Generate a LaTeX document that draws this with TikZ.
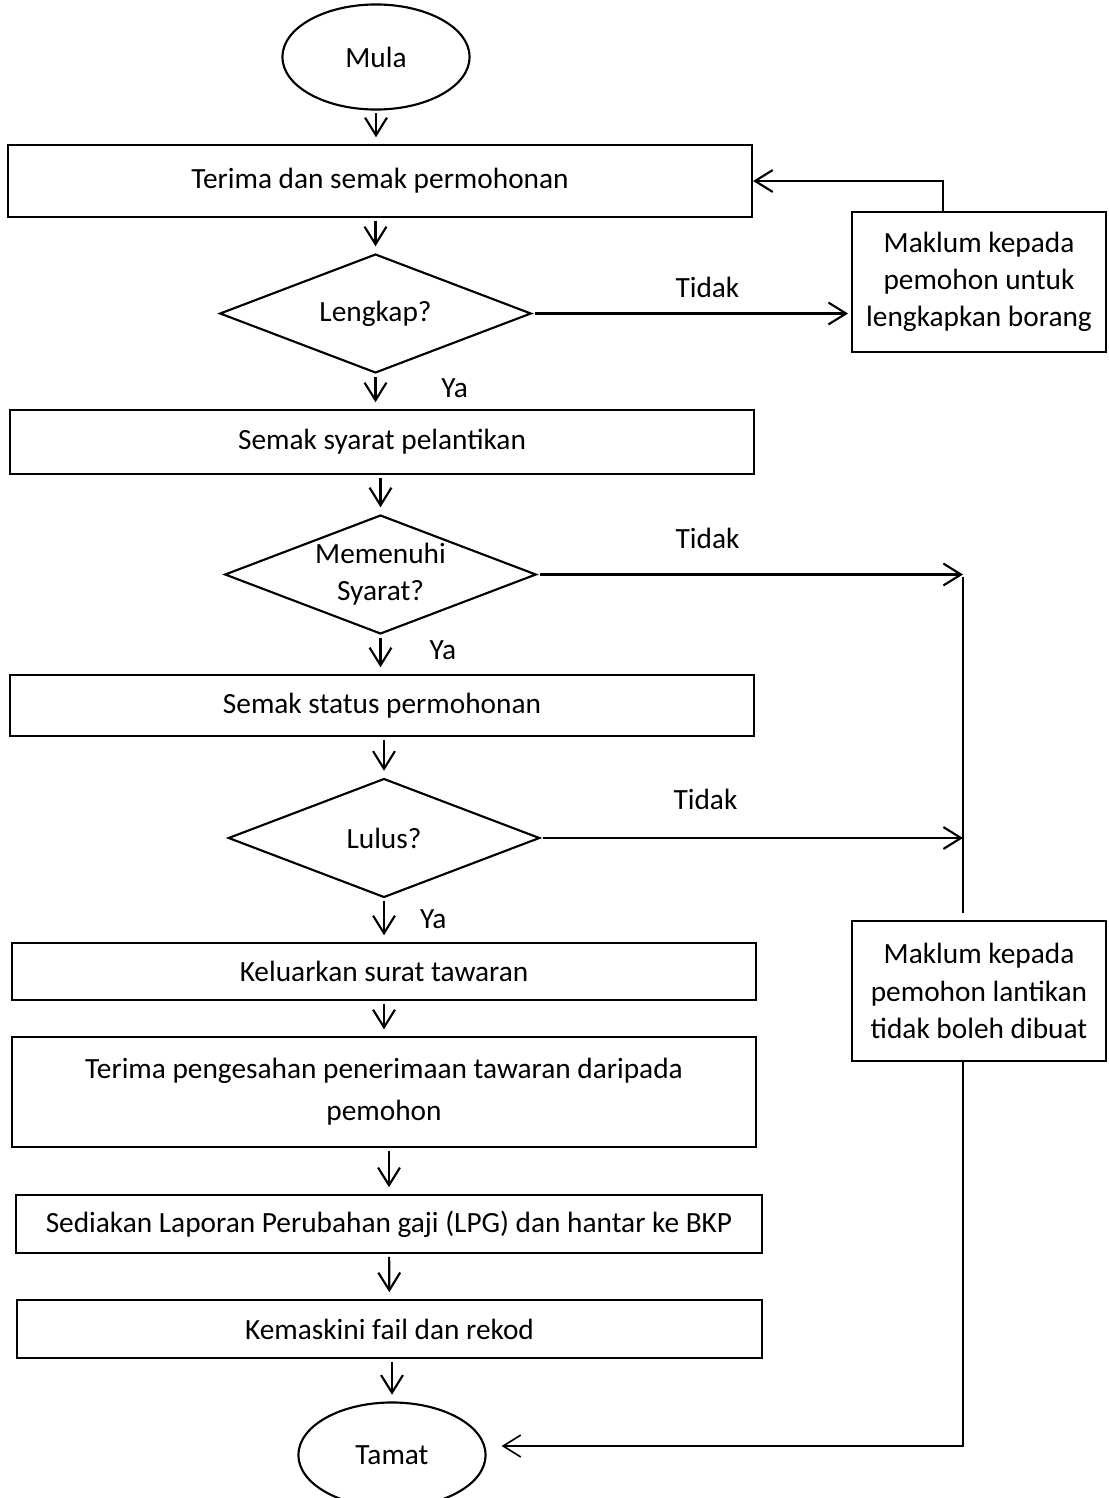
\documentclass[tikz,border=0pt]{standalone}
\usepackage{fontspec}
\setmainfont{Carlito}
\usepackage{tikz}
\usetikzlibrary{shapes.geometric,arrows.meta}

\begin{document}
\begin{tikzpicture}[->,>={Straight Barb[length=6.6pt,width=8.2pt]},shorten >=2.5pt,shorten <=1pt,auto,x=0.375pt,y=-0.375pt,line width=0.8pt]
            \tikzstyle{every node}=[font=\fontsize{11}{14}\selectfont]
            \tikzstyle{proses}=[draw,rectangle,inner sep=0pt,minimum width=279pt,align=center]
            \tikzstyle{keputusan}=[draw,diamond,aspect=2.62,inner sep=0pt,minimum width=116.8pt,minimum height=44.6pt,align=center]
            \tikzstyle{terminal}=[draw,ellipse,inner sep=0pt,minimum width=70.2pt,minimum height=39.4pt]
            \tikzstyle{maklum}=[draw,rectangle,inner sep=0pt,minimum width=95.4pt,minimum height=52.5pt,align=center]
            \useasboundingbox (0,0) rectangle (1108,1498);
            \node[terminal] (mula) at (376,57) {Mula};
            \node[proses, minimum height=27pt] (terima) at (380,181) {Terima dan semak permohonan};
            \node[keputusan] (lengkap) at (375.5,313.5) {Lengkap?};
            \node[maklum] (borang) at (979,282) {Maklum kepada\\pemohon untuk\\lengkapkan borang};
            \node[proses, minimum height=24pt] (syarat) at (382,442) {Semak syarat pelantikan};
            \node[keputusan] (memenuhi) at (380.5,574.5) {Memenuhi\\Syarat?};
            \node[proses, minimum height=22.9pt] (status) at (382,705.5) {Semak status permohonan};
            \node[keputusan] (lulus) at (384,838) {Lulus?};
            \node[maklum] (gagal) at (979,991) {Maklum kepada\\pemohon lantikan\\tidak boleh dibuat};
            \node[proses, minimum height=21.4pt] (surat) at (384,971.5) {Keluarkan surat tawaran};
            \node[proses, minimum height=41.2pt, font=\fontsize{11}{15.75}\selectfont] (sah) at (384,1092) {Terima pengesahan penerimaan tawaran daripada\\pemohon};
            \node[proses, minimum height=21.8pt, minimum width=279.8pt] (lpg) at (389,1224) {Sediakan Laporan Perubahan gaji (LPG) dan hantar ke BKP};
            \node[proses, minimum height=21.8pt, minimum width=279.4pt] (rekod) at (389.5,1329) {Kemaskini fail dan rekod};
            \node[terminal] (tamat) at (392,1455) {Tamat};
            \coordinate (balik) at (943,212);
            \coordinate (tolak1) at (963,574.5);
            \coordinate (tolak2) at (963,838);
            \coordinate (tolak3) at (963,1446);

            % aliran utama
            \path (mula.south) edge (mula.south |- terima.north)
                  (lengkap.north |- terima.south) edge (lengkap.north)
                  (lengkap.south) edge node[right=21pt,pos=0.42] {Ya} (lengkap.south |- syarat.north)
                  (memenuhi.north |- syarat.south) edge (memenuhi.north)
                  (memenuhi.south) edge node[right=14.7pt,pos=0.39] {Ya} (memenuhi.south |- status.north)
                  (lulus.north |- status.south) edge (lulus.north)
                  (lulus.south) edge node[right=9.8pt,pos=0.47] {Ya} (lulus.south |- surat.north)
                  (surat) edge (sah)
                  (lpg.north |- sah.south) edge (lpg.north)
                  (lpg) edge (rekod)
                  (tamat.north |- rekod.south) edge (tamat.north);

            % cabang tidak
            \path (lengkap.east) edge[shorten >=1pt] node[above=2pt,pos=0.55] {Tidak} (lengkap.east -| borang.west)
                  (memenuhi.east) edge[shorten >=0pt] node[above=6pt,pos=0.4] {Tidak} (tolak1)
                  (lulus.east) edge[shorten >=0pt] node[above=7pt,pos=0.39] {Tidak} (tolak2);
            \draw[shorten <=0pt,shorten >=0pt] (balik) |- (terima.east);
            \draw[-,line width=0.6pt] (tolak1) -- (tolak1 |- gagal.north);
            \draw[line width=0.6pt,shorten <=0pt,shorten >=5.6pt] (tolak1 |- gagal.south) -- (tolak3) -- (tolak3 -| tamat.east);
          \end{tikzpicture}
\end{document}
